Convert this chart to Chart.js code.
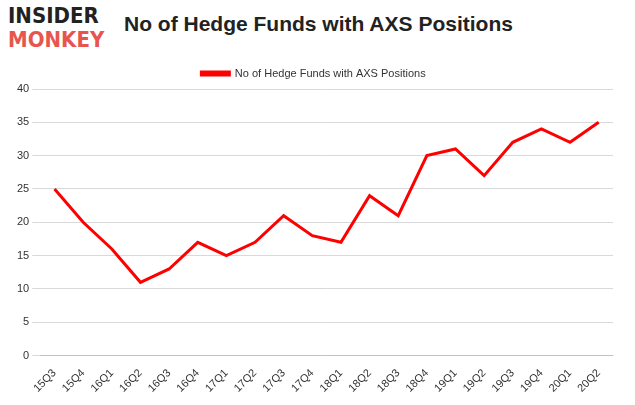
<!DOCTYPE html>
<html><head>
<script src="https://cdn.jsdelivr.net/npm/chart.js"></script>
<style>
body{margin:0;background:#fff;font-family:"Liberation Sans",Arial,sans-serif;}
#wrap{position:relative;width:635px;height:405px;}
#logo{position:absolute;left:8px;top:4px;font-family:"DejaVu Sans Condensed","DejaVu Sans",sans-serif;font-weight:bold;line-height:24px;font-size:22px;}
#logo .a{color:#222;}#logo .b{color:#e8554e;}
#title{position:absolute;left:124px;top:12px;font-size:21px;font-weight:bold;color:#222;}
#c{position:absolute;left:0;top:50px;}
</style></head><body>
<div id="wrap">
<div id="logo"><div class="a">INSIDER</div><div class="b">MONKEY</div></div>
<div id="title">No of Hedge Funds with AXS Positions</div>
<canvas id="c" width="635" height="352"></canvas>
</div>
<script>
const quarters = ['15Q3','15Q4','16Q1','16Q2','16Q3','16Q4','17Q1','17Q2','17Q3','17Q4','18Q1','18Q2','18Q3','18Q4','19Q1','19Q2','19Q3','19Q4','20Q1','20Q2'];
const funds = [25,20,16,11,13,17,15,17,21,18,17,24,21,30,31,27,32,34,32,35];

new Chart(document.getElementById('c'), {
  type: 'line',
  data: {
    labels: quarters,
    datasets: [{ label: 'No of Hedge Funds with AXS Positions', data: funds, borderColor: '#ff0000', backgroundColor: '#ff0000', borderWidth: 3, pointRadius: 0, tension: 0 }]
  },
  options: {
    responsive: false, animation: false,
    layout: { padding: { left: 14, right: 22, bottom: 4 } },
    plugins: { legend: { labels: { boxWidth: 28, boxHeight: 3, color: '#333', font: { size: 11 }, padding: 18 } } },
    scales: {
      x: { offset: true, grid: { display: false }, ticks: { color: '#333', font: { size: 11 }, maxRotation: 45, minRotation: 45 } },
      y: { min: 0, max: 40, ticks: { stepSize: 5, color: '#333', font: { size: 11 } }, grid: { color: '#d9d9d9' }, border: { display: false } }
    }
  }
});
</script>
</body></html>
